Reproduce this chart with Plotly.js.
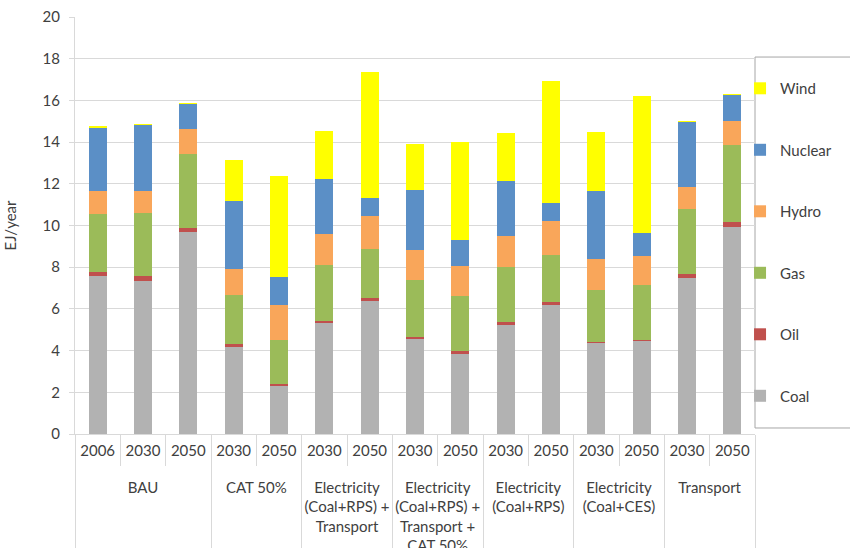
<!DOCTYPE html>
<html>
<head>
<meta charset="utf-8">
<script src="https://cdn.plot.ly/plotly-3.0.1.min.js"></script>
<style>html,body{margin:0;padding:0;background:#fff;}#chart{width:850px;height:548px;}</style>
</head>
<body>
<div id="chart"></div>
<script>
const B = "\u00a0<br>";
const groups = [B+"BAU",B+"BAU",B+"BAU",B+"CAT 50%",B+"CAT 50%",
  B+"Electricity<br>(Coal+RPS) +<br>Transport",B+"Electricity<br>(Coal+RPS) +<br>Transport",
  B+"Electricity<br>(Coal+RPS) +<br>Transport +<br>CAT 50%",B+"Electricity<br>(Coal+RPS) +<br>Transport +<br>CAT 50%",
  B+"Electricity<br>(Coal+RPS)",B+"Electricity<br>(Coal+RPS)",
  B+"Electricity<br>(Coal+CES)",B+"Electricity<br>(Coal+CES)",
  B+"Transport",B+"Transport"];
const years = ["2006","2030","2050","2030","2050","2030","2050","2030","2050","2030","2050","2030","2050","2030","2050"];

const coal    = [7.58,7.35,9.67,4.17,2.32,5.31,6.38,4.54,3.82,5.24,6.20,4.35,4.45,7.50,9.94];
const oil     = [0.20,0.23,0.19,0.13,0.09,0.11,0.13,0.10,0.15,0.13,0.13,0.06,0.07,0.19,0.24];
const gas     = [2.77,3.03,3.58,2.35,2.10,2.67,2.36,2.76,2.66,2.64,2.26,2.50,2.61,3.12,3.70];
const hydro   = [1.12,1.06,1.19,1.26,1.68,1.50,1.59,1.44,1.44,1.50,1.64,1.47,1.41,1.04,1.15];
const nuclear = [3.02,3.17,1.21,3.28,1.33,2.64,0.86,2.85,1.23,2.61,0.86,3.27,1.10,3.10,1.23];
const wind    = [0.08,0.04,0.05,1.95,4.87,2.30,6.04,2.20,4.70,2.30,5.84,2.82,6.57,0.06,0.05];

const seriesNames = ["Coal","Oil","Gas","Hydro","Nuclear","Wind"];
const seriesData = [coal, oil, gas, hydro, nuclear, wind];
const colors = ["#B2B2B2","#C0504D","#9BBB59","#F9A65A","#5B8FC6","#FFFF00"];

const traces = seriesNames.map((n,i)=>({
  type:"bar", name:n, x:[groups, years], y:seriesData[i],
  marker:{color:colors[i], line:{width:0}},
  legendgroup:n, legendrank:seriesNames.length - i, hoverinfo:"skip"
}));

const layout = {
  width:850, height:548,
  margin:{l:75, r:95, t:17, b:114},
  barmode:"stack", bargap:0.6,
  paper_bgcolor:"#fff", plot_bgcolor:"#fff",
  font:{family:"Lato, 'Open Sans', sans-serif", size:15, color:"#404040"},
  xaxis:{
    type:"multicategory", tickangle:0,
    showline:true, linecolor:"#d9d9d9", linewidth:1,
    ticks:"outside", ticklen:31, tickcolor:"#d9d9d9", tickson:"boundaries",
    showdividers:true, dividercolor:"#d9d9d9", dividerwidth:1,
    showgrid:false, tickfont:{size:15, color:"#404040"}, ticklabelstandoff:3
  },
  yaxis:{
    range:[0,20], dtick:2, showgrid:true, gridcolor:"#d9d9d9", gridwidth:1,
    showline:true, linecolor:"#d9d9d9", ticks:"outside", ticklen:5, tickcolor:"#d9d9d9",
    zeroline:false, tickfont:{size:15, color:"#404040"}, ticklabelstandoff:6,
    title:{text:"EJ/year", font:{size:15, color:"#404040"}, standoff:22}
  },
  legend:{
    x:0.978, xanchor:"left", y:0.868, yanchor:"top",
    traceorder:"grouped", tracegroupgap:39,
    font:{size:15, color:"#404040"}, bgcolor:"rgba(0,0,0,0)", borderwidth:0
  },
  shapes:[{type:"rect", xref:"paper", yref:"paper", x0:1.0, x1:1.3, y0:0.0144, y1:0.904,
    line:{color:"#a6a6a6", width:1}, fillcolor:"rgba(0,0,0,0)", layer:"below"}]
};

Plotly.newPlot("chart", traces, layout, {displayModeBar:false, staticPlot:true});
</script>
</body>
</html>
